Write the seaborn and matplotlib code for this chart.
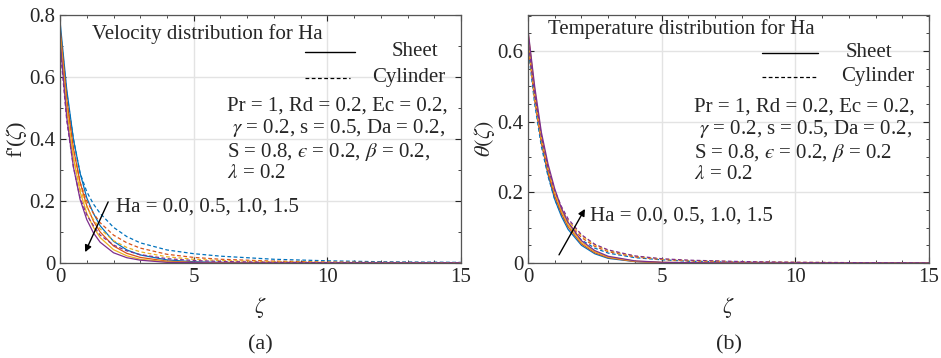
import matplotlib
matplotlib.use('Agg')
import matplotlib.pyplot as plt
import seaborn as sns
import pandas as pd
from matplotlib.lines import Line2D
from matplotlib.ticker import MultipleLocator

# ---- data ----
zeta = [0, 0.25, 0.5, 0.75, 1, 1.25, 1.5, 2, 2.5, 3, 4, 5, 6, 8, 10, 12, 15]
ha_values = ["0.0", "0.5", "1.0", "1.5"]

# velocity f'(zeta), sheet (solid)
vel_sheet = {
    "0.0": [0.78, 0.56, 0.40, 0.29, 0.21, 0.16, 0.12, 0.070, 0.042, 0.026, 0.010, 0.004, 0.002, 0.0005, 0, 0, 0],
    "0.5": [0.76, 0.53, 0.37, 0.26, 0.185, 0.135, 0.10, 0.055, 0.031, 0.018, 0.006, 0.002, 0.001, 0, 0, 0, 0],
    "1.0": [0.74, 0.50, 0.34, 0.23, 0.16, 0.115, 0.082, 0.043, 0.023, 0.012, 0.004, 0.001, 0, 0, 0, 0, 0],
    "1.5": [0.72, 0.47, 0.31, 0.205, 0.14, 0.097, 0.067, 0.033, 0.017, 0.009, 0.002, 0.001, 0, 0, 0, 0, 0],
}
# velocity f'(zeta), cylinder (dashed)
vel_cyl = {
    "0.0": [0.76, 0.55, 0.40, 0.29, 0.23, 0.19, 0.16, 0.115, 0.085, 0.065, 0.042, 0.030, 0.022, 0.012, 0.007, 0.004, 0.002],
    "0.5": [0.74, 0.52, 0.37, 0.26, 0.20, 0.16, 0.13, 0.090, 0.065, 0.048, 0.028, 0.018, 0.012, 0.006, 0.003, 0.002, 0.001],
    "1.0": [0.72, 0.49, 0.34, 0.24, 0.18, 0.14, 0.11, 0.072, 0.050, 0.036, 0.020, 0.012, 0.008, 0.004, 0.002, 0.001, 0],
    "1.5": [0.70, 0.46, 0.31, 0.21, 0.155, 0.12, 0.09, 0.058, 0.039, 0.027, 0.014, 0.008, 0.005, 0.002, 0.001, 0, 0],
}
# temperature theta(zeta), sheet (solid)
tem_sheet = {
    "0.0": [0.645, 0.47, 0.345, 0.25, 0.18, 0.132, 0.095, 0.050, 0.026, 0.013, 0.004, 0.001, 0, 0, 0, 0, 0],
    "0.5": [0.65, 0.48, 0.355, 0.26, 0.19, 0.14, 0.102, 0.054, 0.029, 0.015, 0.004, 0.001, 0, 0, 0, 0, 0],
    "1.0": [0.655, 0.49, 0.36, 0.27, 0.20, 0.148, 0.108, 0.058, 0.032, 0.017, 0.005, 0.002, 0.001, 0, 0, 0, 0],
    "1.5": [0.66, 0.50, 0.37, 0.28, 0.21, 0.155, 0.115, 0.063, 0.035, 0.019, 0.006, 0.002, 0.001, 0, 0, 0, 0],
}
# temperature theta(zeta), cylinder (dashed)
tem_cyl = {
    "0.0": [0.61, 0.45, 0.33, 0.245, 0.18, 0.137, 0.104, 0.065, 0.042, 0.028, 0.015, 0.009, 0.005, 0.002, 0.001, 0, 0],
    "0.5": [0.62, 0.46, 0.34, 0.255, 0.19, 0.147, 0.113, 0.072, 0.047, 0.032, 0.017, 0.010, 0.006, 0.003, 0.001, 0.001, 0],
    "1.0": [0.625, 0.47, 0.35, 0.265, 0.20, 0.155, 0.12, 0.077, 0.051, 0.035, 0.019, 0.011, 0.007, 0.003, 0.002, 0.001, 0],
    "1.5": [0.63, 0.48, 0.36, 0.27, 0.205, 0.16, 0.125, 0.080, 0.053, 0.037, 0.020, 0.012, 0.008, 0.004, 0.002, 0.001, 0],
}

colors = ["#0072BD", "#D95319", "#EDB120", "#7E2F8E"]
param_text = ("Pr = 1, Rd = 0.2, Ec = 0.2,\n"
              r" $\gamma$ = 0.2, s = 0.5, Da = 0.2,"
              "\n" "S = 0.8, $\u03f5$ = 0.2, $\\beta$ = 0.2{}"
              "\n" r"$\lambda$ = 0.2")


def to_frame(sheet, cyl):
    rows = []
    for geom, d in [("Sheet", sheet), ("Cylinder", cyl)]:
        for ha in ha_values:
            for z, v in zip(zeta, d[ha]):
                rows.append({"zeta": z, "value": v, "Ha": ha, "geom": geom})
    return pd.DataFrame(rows)


sns.set_style("ticks")
plt.rcParams['font.family'] = ['Liberation Serif', 'DejaVu Serif']
plt.rcParams['mathtext.fontset'] = 'stix'

FS = 15

fig = plt.figure(figsize=(9.41, 3.58), dpi=100)
ax1 = fig.add_axes([0.0638, 0.2654, 0.4262, 0.6927])
ax2 = fig.add_axes([0.5611, 0.2654, 0.4262, 0.6927])

# (axes, frame, ytop, minor step, ylabel, comma, tag, legend geometry, param pos)
panels = [
    (ax1, to_frame(vel_sheet, vel_cyl), 0.8, 0.1, r"f'($\zeta$)", ",", "(a)",
     (0.611, 0.736, 0.723, 0.851, 0.746, 0.884, 0.870), (0.416, 0.496)),
    (ax2, to_frame(tem_sheet, tem_cyl), 0.702, 0.05, r"$\theta(\zeta)$", "", "(b)",
     (0.584, 0.723, 0.723, 0.847, 0.750, 0.850, 0.872), (0.414, 0.492)),
]

for ax, df, ytop, yminor, ylab, comma, tag, lg, pp in panels:
    sns.lineplot(data=df, x="zeta", y="value", hue="Ha", style="geom",
                 palette=colors, dashes={"Sheet": "", "Cylinder": (3, 2)},
                 linewidth=0.9, legend=False, ax=ax)
    ax.set_xlim(0, 15)
    ax.set_ylim(0, ytop)
    ax.xaxis.set_major_locator(MultipleLocator(5))
    ax.xaxis.set_minor_locator(MultipleLocator(1))
    ax.yaxis.set_minor_locator(MultipleLocator(yminor))
    yt = [0, 0.2, 0.4, 0.6] + ([0.8] if ytop >= 0.8 else [])
    ax.set_yticks(yt)
    ax.set_yticklabels(["0" if v == 0 else f"{v:.1f}" for v in yt])
    ax.grid(True, which="major", color="#e3e3e3", linewidth=1.0)
    ax.set_axisbelow(True)
    ax.tick_params(which="both", direction="in", top=True, right=True,
                   labelsize=FS, colors="#262626", length=4)
    ax.tick_params(which="minor", length=2.5)
    for sp in ax.spines.values():
        sp.set_color("#555555")
        sp.set_linewidth(0.9)
    ax.set_xlabel(r"$\zeta$", fontsize=16, labelpad=6)
    ax.set_ylabel(ylab, fontsize=16, labelpad=0)
    ax.text(0.5, -0.33, tag, transform=ax.transAxes, ha="center", va="center", fontsize=FS + 1)

    # hand-made legend, as in the reference
    x0, x1s, x1d, ys, yd, xs, xc = lg
    ax.add_line(Line2D([x0, x1s], [ys, ys], transform=ax.transAxes, color="black", lw=1.0))
    ax.add_line(Line2D([x0, x1d], [yd, yd], transform=ax.transAxes, color="black", lw=0.9,
                       ls=(0, (3, 2))))
    ax.text(xs, ys, "Sheet", transform=ax.transAxes, ha="center", va="center", fontsize=FS)
    ax.text(xc, yd, "Cylinder", transform=ax.transAxes, ha="center", va="center", fontsize=FS)

    ax.text(pp[0], pp[1], param_text.format(comma), transform=ax.transAxes,
            ha="left", va="center", fontsize=FS, linespacing=1.1)

ax1.text(0.08, 0.923, "Velocity distribution for Ha", transform=ax1.transAxes,
         ha="left", va="center", fontsize=FS)
ax2.text(0.049, 0.944, "Temperature distribution for Ha", transform=ax2.transAxes,
         ha="left", va="center", fontsize=FS)

ax1.text(2.1, 0.18, "Ha = 0.0, 0.5, 1.0, 1.5", fontsize=FS, va="center")
ax1.annotate("", xy=(0.94, 0.035), xytext=(1.8, 0.197),
             arrowprops=dict(arrowstyle="-|>", color="black", lw=1.0,
                             mutation_scale=10, shrinkA=0, shrinkB=0))
ax2.text(2.32, 0.133, "Ha = 0.0, 0.5, 1.0, 1.5", fontsize=FS, va="center")
ax2.annotate("", xy=(2.13, 0.153), xytext=(1.16, 0.023),
             arrowprops=dict(arrowstyle="-|>", color="black", lw=1.0,
                             mutation_scale=10, shrinkA=0, shrinkB=0))

fig.savefig("out.png", dpi=100)
